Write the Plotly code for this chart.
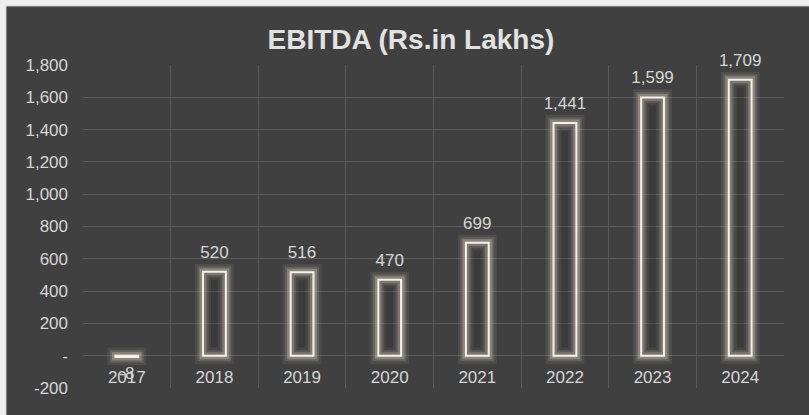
import plotly.graph_objects as go

years = ["2017", "2018", "2019", "2020", "2021", "2022", "2023", "2024"]
ebitda = [-8, 520, 516, 470, 699, 1441, 1599, 1709]
y_tickvals = [-200, 0, 200, 400, 600, 800, 1000, 1200, 1400, 1600, 1800]
y_ticktext = ["-200", "-", "200", "400", "600", "800", "1,000", "1,200", "1,400", "1,600", "1,800"]
y_range = [-200, 1800]

BG = "#404040"
GRID = "#595959"
TXT = "#d6d6d6"
FONT = "Liberation Sans, Arial, sans-serif"
BAR_W = 0.26

fig = go.Figure()

# soft glow layers
for lw, col in [(16, "rgba(205,195,180,0.10)"), (11, "rgba(210,200,185,0.17)"),
                (7, "rgba(225,215,200,0.30)")]:
    fig.add_trace(go.Bar(
        x=years, y=ebitda, width=BAR_W,
        marker=dict(color="rgba(0,0,0,0)", line=dict(color=col, width=lw)),
        hoverinfo="skip", showlegend=False,
    ))

# crisp outline bars
fig.add_trace(go.Bar(
    x=years, y=ebitda, width=BAR_W,
    marker=dict(color="rgba(30,28,26,0.12)", line=dict(color="#f5f2ea", width=2)),
    hoverinfo="skip", showlegend=False,
))

# data labels
fig.add_trace(go.Scatter(
    x=years, y=ebitda, mode="markers+text",
    marker=dict(size=14, color="rgba(0,0,0,0)"),
    text=[f"{v:,}" for v in ebitda],
    textposition=["bottom center" if v < 0 else "top center" for v in ebitda],
    textfont=dict(color=TXT, size=17, family=FONT),
    cliponaxis=False, hoverinfo="skip", showlegend=False,
))

fig.update_layout(
    width=809, height=415,
    barmode="overlay",
    paper_bgcolor="#eeeeee",
    plot_bgcolor="rgba(0,0,0,0)",
    margin=dict(l=83, r=25, t=65, b=27),
    font=dict(family=FONT, color=TXT, size=17),
    title=dict(text="<b>EBITDA (Rs.in Lakhs)</b>", x=0.508, xanchor="center",
               y=0.905, yanchor="middle",
               font=dict(size=28, color="#e2e2e2", family=FONT)),
    xaxis=dict(
        type="category", categoryorder="array", categoryarray=years,
        tickson="boundaries", showgrid=True, gridcolor=GRID, gridwidth=1,
        ticks="", showline=False, zeroline=False,
        anchor="free", position=(0 - y_range[0]) / (y_range[1] - y_range[0]),
        ticklabelstandoff=9,
        tickfont=dict(size=17, color=TXT, family=FONT),
        range=[-0.5, len(years) - 0.5],
    ),
    yaxis=dict(
        range=y_range, tickvals=y_tickvals, ticktext=y_ticktext,
        showgrid=True, gridcolor=GRID, gridwidth=1, zeroline=False,
        ticks="", ticklabelstandoff=14,
        tickfont=dict(size=17, color=TXT, family=FONT),
    ),
    shapes=[dict(type="rect", xref="paper", yref="paper",
                 x0=-77 / 701, x1=1.2, y0=-0.2, y1=1 + 59 / 323,
                 fillcolor=BG, line=dict(color="#c8c8c8", width=1), layer="below")],
)

fig.write_html("out.html")
